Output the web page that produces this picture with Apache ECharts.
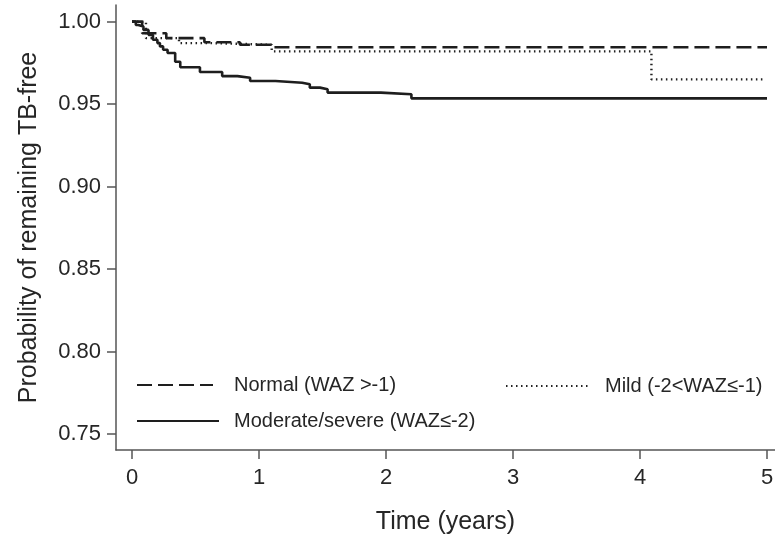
<!DOCTYPE html>
<html>
<head>
<meta charset="utf-8">
<script src="https://cdn.jsdelivr.net/npm/echarts@6/dist/echarts.min.js"></script>
<style>
html,body{margin:0;padding:0;background:#fff;}
#main{width:775px;height:538px;}
</style>
</head>
<body>
<div id="main"></div>
<script>
// Kaplan-Meier step points: [time (years), survival probability]
const normalCurve = [
  [0, 1.000], [0.08, 0.993], [0.27, 0.990], [0.57, 0.9875], [0.85, 0.986],
  [1.12, 0.9845], [5.0, 0.9845]
];
const mildCurve = [
  [0, 1.000], [0.11, 0.990], [0.37, 0.987], [0.63, 0.986], [1.10, 0.982],
  [4.09, 0.965], [4.98, 0.965]
];
const moderateCurve = [
  [0, 1.000], [0.03, 0.998], [0.05, 0.997], [0.09, 0.995], [0.13, 0.992],
  [0.165, 0.989], [0.20, 0.987], [0.22, 0.985], [0.245, 0.983], [0.28, 0.981],
  [0.34, 0.9757], [0.38, 0.9724], [0.535, 0.9695], [0.71, 0.967], [0.83, 0.966],
  [0.93, 0.964], [1.13, 0.963], [1.34, 0.962], [1.40, 0.960], [1.48, 0.959],
  [1.54, 0.957], [1.96, 0.956], [2.20, 0.9535], [5.0, 0.9535]
];
const seriesNames = ['Normal (WAZ >-1)', 'Mild (-2<WAZ\u2264-1)', 'Moderate/severe (WAZ\u2264-2)'];
const xTicks = [0, 1, 2, 3, 4, 5];
const yTicks = [0.75, 0.80, 0.85, 0.90, 0.95, 1.00];
const xTitle = 'Time (years)';
const yTitle = 'Probability of remaining TB-free';

const chart = echarts.init(document.getElementById('main'), null, {renderer: 'canvas'});
const FONT = 'Liberation Sans, Arial, sans-serif';
const TXT = '#262626';
const AX = '#555555';

function legendCfg(name, left, top, width, gap) {
  return {
    data: [name], left: left, top: top, padding: 0,
    itemWidth: width, itemHeight: 12,
    itemStyle: {opacity: 0},
    textStyle: {fontFamily: FONT, fontSize: 20, color: TXT, padding: [0, 0, 0, gap]},
    selectedMode: false
  };
}

chart.setOption({
  animation: false,
  backgroundColor: '#fff',
  grid: {left: 116, right: 0, top: 5, bottom: 88, containLabel: false, outerBoundsMode: 'none'},
  xAxis: {
    type: 'value', min: -0.126, max: 5.063,
    name: xTitle, nameLocation: 'middle', nameGap: 60,
    nameTextStyle: {fontFamily: FONT, fontSize: 25, color: TXT},
    axisLine: {show: true, onZero: false, lineStyle: {color: AX, width: 1.5}},
    axisTick: {show: true, length: 9, lineStyle: {color: AX, width: 1.5}, customValues: xTicks},
    axisLabel: {customValues: xTicks, fontFamily: FONT, fontSize: 22, color: TXT, margin: 17,
      formatter: v => String(Math.round(v))},
    splitLine: {show: false}
  },
  yAxis: {
    type: 'value', min: 0.7403, max: 1.0101,
    name: yTitle, nameLocation: 'middle', nameGap: 74, nameRotate: 90,
    nameTextStyle: {fontFamily: FONT, fontSize: 25, color: TXT},
    axisLine: {show: true, onZero: false, lineStyle: {color: AX, width: 1.5}},
    axisTick: {show: true, length: 9, lineStyle: {color: AX, width: 1.5}, customValues: yTicks},
    axisLabel: {customValues: yTicks, fontFamily: FONT, fontSize: 22, color: TXT, margin: 15,
      formatter: v => v.toFixed(2)},
    splitLine: {show: false}
  },
  legend: [
    legendCfg(seriesNames[0], 136, 375, 76, 16),
    legendCfg(seriesNames[1], 505, 376, 82, 12),
    legendCfg(seriesNames[2], 136, 411, 82, 10)
  ],
  series: [
    {name: seriesNames[0], type: 'line', step: 'end', symbol: 'none', data: normalCurve,
      lineStyle: {color: '#1e1e1e', width: 2.6, type: [15, 6]}, itemStyle: {color: '#1e1e1e'}, z: 3},
    {name: seriesNames[1], type: 'line', step: 'end', symbol: 'none', data: mildCurve,
      lineStyle: {color: '#222222', width: 2.4, type: [1.5, 3.5]}, itemStyle: {color: '#222222'}, z: 2},
    {name: seriesNames[2], type: 'line', step: 'end', symbol: 'none', data: moderateCurve,
      lineStyle: {color: '#1e1e1e', width: 2.6}, itemStyle: {color: '#1e1e1e'}, z: 4}
  ]
});
</script>
</body>
</html>
